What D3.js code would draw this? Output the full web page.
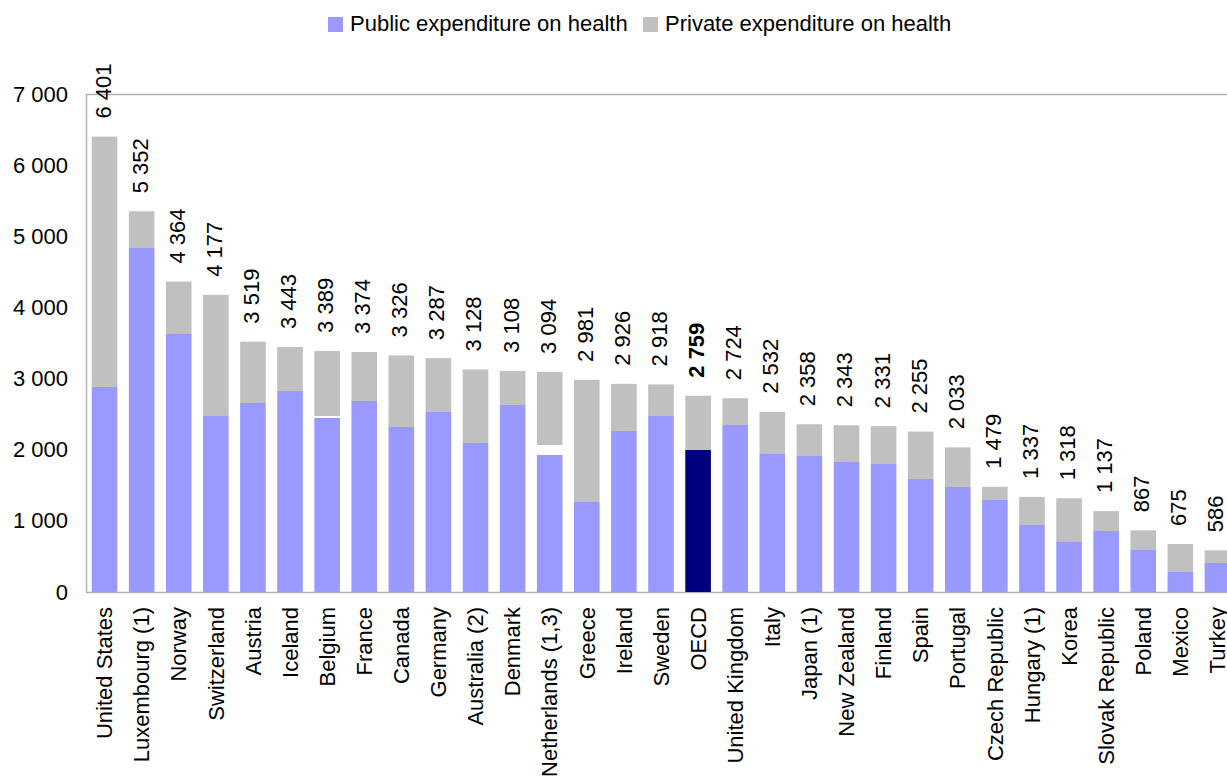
<!DOCTYPE html>
<html><head><meta charset="utf-8">
<script src="https://cdn.jsdelivr.net/npm/d3@7"></script>
<style>body{margin:0;background:#fff;} svg{display:block;font-family:"Liberation Sans",Arial,sans-serif;}</style>
</head><body>
<svg id="chart" width="1227" height="783"></svg>
<script>
const categories = ["United States","Luxembourg (1)","Norway","Switzerland","Austria","Iceland","Belgium","France","Canada","Germany","Australia (2)","Denmark","Netherlands (1,3)","Greece","Ireland","Sweden","OECD","United Kingdom","Italy","Japan (1)","New Zealand","Finland","Spain","Portugal","Czech Republic","Hungary (1)","Korea","Slovak Republic","Poland","Mexico","Turkey"];
const totalValues = [6401,5352,4364,4177,3519,3443,3389,3374,3326,3287,3128,3108,3094,2981,2926,2918,2759,2724,2532,2358,2343,2331,2255,2033,1479,1337,1318,1137,867,675,586];
const publicValues = [2882,4836,3627,2474,2657,2825,2446,2685,2319,2530,2094,2629,1926,1265,2263,2474,1996,2347,1940,1912,1827,1799,1588,1476,1293,942,703,857,590,281,408];
const privateValues = [3519,516,737,1703,862,618,915,689,1007,757,1034,479,1028,1716,663,444,763,377,592,446,516,532,667,557,186,395,615,280,277,394,178];
const yTicks = [0,1000,2000,3000,4000,5000,6000,7000];
const seriesNames = ["Public expenditure on health","Private expenditure on health"];
const highlight = "OECD";

(function(){
const svg = d3.select("#chart");
const mLeft = 86, mRight = 1236, mTop = 94, mBottom = 592;
const x = d3.scaleBand().domain(categories).range([mLeft, mRight]).paddingInner(0.31).paddingOuter(0.155);
const y = d3.scaleLinear().domain([0, 7000]).range([mBottom, mTop]);
const fmt = v => d3.format(",")(v).replace(/,/g, " ");
const colPublic = "#9999FF", colPrivate = "#C0C0C0", colOECD = "#000080";

// frame
svg.append("rect").attr("x", mLeft+0.5).attr("y", mTop+0.5).attr("width", mRight-mLeft).attr("height", mBottom-mTop)
  .attr("fill","none").attr("stroke","#b3b3b3").attr("stroke-width",1.5);

// y axis labels
const yAxis = d3.axisLeft(y).tickValues(yTicks).tickFormat(fmt).tickSize(0).tickPadding(18);
const ya = svg.append("g").attr("transform",`translate(${mLeft},0)`).call(yAxis);
ya.select(".domain").remove();
ya.selectAll("text").attr("font-size",22).attr("fill","#000").style("font-family","'Liberation Sans',Arial,sans-serif");

const data = categories.map((c,i)=>({c, total:totalValues[i], pub:publicValues[i], priv:privateValues[i]}));

// private bars
svg.append("g").selectAll("rect").data(data).join("rect")
  .attr("x", d=>x(d.c)).attr("width", x.bandwidth())
  .attr("y", d=>y(d.total)).attr("height", d=>y(d.total-d.priv)-y(d.total))
  .attr("fill", colPrivate);
// public bars
svg.append("g").selectAll("rect").data(data).join("rect")
  .attr("x", d=>x(d.c)).attr("width", x.bandwidth())
  .attr("y", d=>y(d.pub)).attr("height", d=>y(0)-y(d.pub))
  .attr("fill", d=>d.c===highlight?colOECD:colPublic);

// value labels
svg.append("g").selectAll("text").data(data).join("text")
  .attr("transform", d=>`translate(${x(d.c)+x.bandwidth()/2},${y(d.total)-18}) rotate(-90)`)
  .attr("dy","0.27em").attr("text-anchor","start").attr("font-size",22)
  .attr("font-weight", d=>d.c===highlight?"bold":"normal")
  .text(d=>fmt(d.total));

// category labels
svg.append("g").selectAll("text").data(data).join("text")
  .attr("transform", d=>`translate(${x(d.c)+x.bandwidth()/2},${mBottom+15}) rotate(-90)`)
  .attr("dy","0.35em").attr("text-anchor","end").attr("font-size",22)
  .text(d=>d.c);

// legend
const lg = svg.append("g");
const legendItems = [{name:seriesNames[0], col:colPublic, x:328},{name:seriesNames[1], col:colPrivate, x:643}];
legendItems.forEach(it=>{
  lg.append("rect").attr("x",it.x).attr("y",17).attr("width",15).attr("height",15).attr("fill",it.col);
  lg.append("text").attr("x",it.x+22).attr("y",31).attr("font-size",22).text(it.name);
});
})();
</script>
</body></html>
